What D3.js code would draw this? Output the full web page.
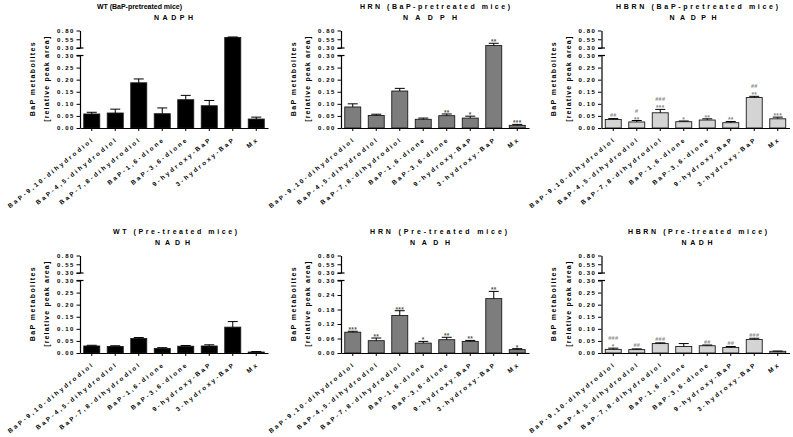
<!DOCTYPE html>
<html><head><meta charset="utf-8">
<script src="https://cdn.jsdelivr.net/npm/d3@7"></script>
<style>
body{margin:0;background:#fff}
svg{display:block}
text{font-family:"Liberation Sans",Arial,sans-serif;font-weight:bold;fill:#000}
</style>
</head><body>
<svg id="c" width="793" height="437"></svg>
<script>
// ---------------- data ----------------
const categories = ["BaP-9,10-dihydrodiol","BaP-4,5-dihydrodiol","BaP-7,8-dihydrodiol","BaP-1,6-dione","BaP-3,6-dione","9-hydroxy-BaP","3-hydroxy-BaP","Mx"];
const panelTitles = ["WT (BaP-pretreated mice)","HRN (BaP-pretreated mice)","HBRN (BaP-pretreated mice)","WT (Pre-treated mice)","HRN (Pre-treated mice)","HBRN (Pre-treated mice)"];
const cofactors = ["NADPH","NADPH","NADPH","NADH","NADH","NADH"];
const yLabelLines = ["BaP metabolites","[relative peak area]"];
const lowerTicksA = [0,0.05,0.10,0.15,0.20,0.25,0.30];
const lowerTicksB = [0,0.06,0.12,0.18,0.24,0.30];
const upperTicks = [0.30,0.55,0.80];

const wtNADPH      = [0.058,0.062,0.187,0.059,0.117,0.092,0.600,0.037];
const wtNADPHErr   = [0.007,0.016,0.016,0.024,0.018,0.022,0.015,0.008];
const hrnNADPH     = [0.087,0.052,0.153,0.036,0.051,0.041,0.370,0.011];
const hrnNADPHErr  = [0.013,0.005,0.011,0.005,0.007,0.008,0.065,0.004];
const hbrnNADPH    = [0.035,0.025,0.063,0.026,0.033,0.022,0.126,0.038];
const hbrnNADPHErr = [0.004,0.006,0.014,0.003,0.005,0.005,0.005,0.007];
const wtNADH       = [0.029,0.027,0.060,0.019,0.028,0.029,0.107,0.004];
const wtNADHErr    = [0.003,0.003,0.004,0.003,0.003,0.005,0.023,0.002];
const hrnNADH      = [0.086,0.051,0.155,0.041,0.055,0.048,0.225,0.014];
const hrnNADHErr   = [0.004,0.011,0.020,0.007,0.010,0.004,0.030,0.004];
const hbrnNADH     = [0.015,0.014,0.039,0.027,0.030,0.023,0.056,0.007];
const hbrnNADHErr  = [0.005,0.003,0.003,0.012,0.003,0.004,0.005,0.001];

const noMarks          = ["","","","","","","",""];
const hrnNADPHStars    = ["","","","","**","*","**","***"];
const hbrnNADPHStars   = ["","**","***","*","**","**","**","***"];
const hbrnNADPHHashes  = ["##","#","###","","","","##",""];
const hrnNADHStars     = ["***","**","***","*","**","**","**","*"];
const hbrnNADHStars    = ["*","","","","","","",""];
const hbrnNADHHashes   = ["###","##","###","","##","##","###",""];

// ---------------- layout ----------------
const svg = d3.select("#c");
const axisXs = [80, 341, 601.5];
const rowOff = [0, 225];
const plotW = 188;
const G = {base:128, lowTop:55.5, upBot:48, upTop:30.5};

const panels = [
 {v:wtNADPH, e:wtNADPHErr, lt:lowerTicksA, fill:"#000", stars:noMarks, hashes:noMarks, mc:"#555", tcx:139.5, tw:85, tfs:7, scx:173.5, sw:39},
 {v:hrnNADPH, e:hrnNADPHErr, lt:lowerTicksA, fill:"#7d7d7d", stars:hrnNADPHStars, hashes:noMarks, mc:"#555", tcx:435, tw:150, tfs:7, scx:430, sw:54},
 {v:hbrnNADPH, e:hbrnNADPHErr, lt:lowerTicksA, fill:"#d4d4d4", stars:hbrnNADPHStars, hashes:hbrnNADPHHashes, mc:"#888", tcx:697, tw:162, tfs:7, scx:693, sw:47},
 {v:wtNADH, e:wtNADHErr, lt:lowerTicksA, fill:"#000", stars:noMarks, hashes:noMarks, mc:"#555", tcx:175, tw:124, tfs:7, scx:172.5, sw:35},
 {v:hrnNADH, e:hrnNADHErr, lt:lowerTicksB, fill:"#7d7d7d", stars:hrnNADHStars, hashes:noMarks, mc:"#555", tcx:438.5, tw:137, tfs:7, scx:430, sw:40},
 {v:hbrnNADH, e:hbrnNADHErr, lt:lowerTicksA, fill:"#d4d4d4", stars:hbrnNADHStars, hashes:hbrnNADHHashes, mc:"#888", tcx:697.5, tw:139, tfs:7, scx:697, sw:31}
];

panels.forEach((p, i) => {
  const col = i % 3, row = Math.floor(i / 3);
  const ax = axisXs[col], off = rowOff[row];
  const g = svg.append("g");
  const lower = d3.scaleLinear().domain([0, 0.30]).range([G.base + off, G.lowTop + off]);
  const upper = d3.scaleLinear().domain([0.30, 0.80]).range([G.upBot + off, G.upTop + off]);
  const yf = v => v <= 0.30 ? lower(v) : upper(v);
  const x = d3.scaleBand().domain(categories).range([ax, ax + plotW]).paddingInner(0.32).paddingOuter(0.16);

  // titles
  g.append("text").attr("x", p.tcx - p.tw/2).attr("y", 8.8 + off)
    .attr("font-size", p.tfs).attr("textLength", p.tw).attr("lengthAdjust", "spacing").text(panelTitles[i]);
  g.append("text").attr("x", p.scx - p.sw/2).attr("y", 19.6 + off)
    .attr("font-size", 7).attr("textLength", p.sw).attr("lengthAdjust", "spacing").text(cofactors[i]);

  // y labels
  const yc = (G.base + G.upTop)/2 + off;
  const ylw = [74, 85], ylx = [ax - 45.5, ax - 31];
  yLabelLines.forEach((t, k) => {
    g.append("g").attr("transform", `translate(${ylx[k]},${yc}) rotate(-90)`)
      .append("text").attr("x", -ylw[k]/2).attr("y", 0).attr("font-size", 7)
      .attr("textLength", ylw[k]).attr("lengthAdjust", "spacing").text(t);
  });

  // bars
  g.selectAll("rect.bar").data(p.v).join("rect")
    .attr("x", (d, j) => x(categories[j]))
    .attr("width", x.bandwidth())
    .attr("y", d => yf(d))
    .attr("height", d => yf(0) - yf(d))
    .attr("fill", p.fill).attr("stroke", "#1a1a1a").attr("stroke-width", 0.9);

  // error bars
  const capW = 10;
  p.v.forEach((d, j) => {
    const cx = x(categories[j]) + x.bandwidth()/2;
    const yt = yf(d + p.e[j]);
    g.append("line").attr("x1", cx).attr("x2", cx).attr("y1", yf(d)).attr("y2", yt).attr("stroke", "#000").attr("stroke-width", 1);
    g.append("line").attr("x1", cx - capW/2).attr("x2", cx + capW/2).attr("y1", yt).attr("y2", yt).attr("stroke", "#000").attr("stroke-width", 1);
    let by = yt - 1.5;
    if (p.stars[j]) {
      g.append("text").attr("x", cx).attr("y", by + 2.5).attr("text-anchor", "middle")
        .attr("font-size", 6.5).style("fill", p.mc).attr("letter-spacing", 0.3).text(p.stars[j]);
      by -= 6.5;
    }
    if (p.hashes[j]) {
      g.append("text").attr("x", cx).attr("y", by).attr("text-anchor", "middle")
        .attr("font-size", 5.5).style("fill", p.mc).attr("letter-spacing", 0.3).text(p.hashes[j]);
    }
  });

  // y axes (broken)
  const fmt = d3.format(".2f");
  const styleAxis = sel => {
    sel.select(".domain").attr("stroke-width", 1.2);
    sel.selectAll(".tick line").attr("stroke-width", 1);
    sel.selectAll(".tick text").attr("font-size", 6).attr("letter-spacing", 1.6)
      .attr("font-family", "'Liberation Sans',Arial,sans-serif").attr("font-weight", "bold").attr("x", -5);
  };
  g.append("g").attr("transform", `translate(${ax},0)`)
    .call(d3.axisLeft(lower).tickValues(p.lt).tickFormat(fmt).tickSize(3.5).tickSizeOuter(0)).call(styleAxis);
  g.append("g").attr("transform", `translate(${ax},0)`)
    .call(d3.axisLeft(upper).tickValues(upperTicks).tickFormat(fmt).tickSize(3.5).tickSizeOuter(0)).call(styleAxis);
  [lower(0.30), upper(0.30)].forEach(yy => {
    g.append("line").attr("x1", ax - 3.5).attr("x2", ax + 3.5).attr("y1", yy).attr("y2", yy).attr("stroke", "#000").attr("stroke-width", 1.2);
  });

  // x axis
  const xa = g.append("g").attr("transform", `translate(0,${G.base + off})`)
    .call(d3.axisBottom(x).tickSize(3).tickSizeOuter(0));
  xa.select(".domain").attr("stroke-width", 1.2);
  xa.selectAll(".tick text")
    .attr("font-size", 6.3).attr("letter-spacing", 2.3)
    .attr("font-family", "'Liberation Sans',Arial,sans-serif").attr("font-weight", "bold")
    .attr("text-anchor", "end").attr("y", 0).attr("dy", 0)
    .attr("transform", "translate(3,12) rotate(-39)");
});
</script>
</body></html>
